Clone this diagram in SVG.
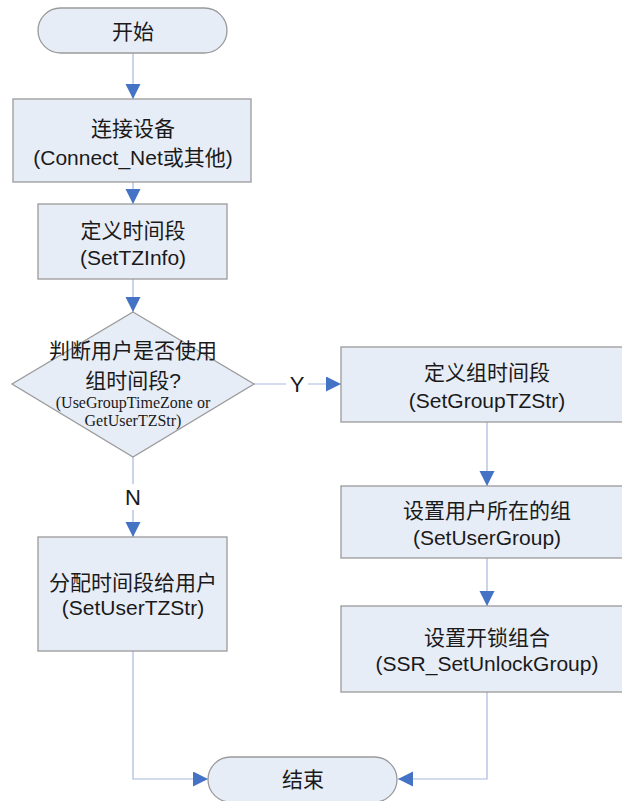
<svg xmlns="http://www.w3.org/2000/svg" width="622" height="801" viewBox="0 0 622 801">
<style>
.n{fill:#e7edf7;stroke:#9a9a9a;stroke-width:1.3}
.c{fill:none;stroke:#a7b9de;stroke-width:1.2}
.t{font-family:"Liberation Sans","Noto Sans CJK SC",sans-serif;font-size:21px;fill:#1a1a1a;text-anchor:middle;dominant-baseline:central}
.s{font-family:"Liberation Serif","Noto Sans CJK SC",serif;font-size:16px;fill:#1a1a1a;text-anchor:middle;dominant-baseline:central}
.lb{fill:#ffffff}
</style>
<defs>
<marker id="a" markerUnits="userSpaceOnUse" markerWidth="16" markerHeight="16" refX="15" refY="7.5" orient="auto">
<path d="M0,0 L15,7.5 L0,15 Z" fill="#4472c4"/>
</marker>
</defs>
<g id="connectors">
<path class="c" d="M133,53 V99" marker-end="url(#a)"/>
<path class="c" d="M133,182 V204" marker-end="url(#a)"/>
<path class="c" d="M133,279 V312" marker-end="url(#a)"/>
<path class="c" d="M254,384 H341" marker-end="url(#a)"/>
<path class="c" d="M133,457 V537" marker-end="url(#a)"/>
<path class="c" d="M487,422 V486" marker-end="url(#a)"/>
<path class="c" d="M487,558 V606" marker-end="url(#a)"/>
<path class="c" d="M487,692 V779 H398" marker-end="url(#a)"/>
<path class="c" d="M133,651 V779 H208" marker-end="url(#a)"/>
<rect class="lb" x="286" y="371" width="22" height="26"/>
<text class="t" x="297" y="384" style="font-size:22px">Y</text>
<rect class="lb" x="122" y="484" width="22" height="26"/>
<text class="t" x="133" y="497" style="font-size:22px">N</text>
</g>
<g id="start">
<rect class="n" x="38" y="8" width="189" height="45" rx="22.5"/>
<text class="t" x="133" y="31">开始</text>
</g>
<g id="connect">
<rect class="n" x="13" y="99" width="238" height="83"/>
<text class="t" x="133" y="128">连接设备</text>
<text class="t" x="133" y="157">(Connect_Net或其他)</text>
</g>
<g id="settz">
<rect class="n" x="38" y="204" width="189" height="75"/>
<text class="t" x="133" y="230">定义时间段</text>
<text class="t" x="133" y="257">(SetTZInfo)</text>
</g>
<g id="decision">
<polygon class="n" points="133,312 254,384 133,457 12,384"/>
<text class="t" x="133" y="350">判断用户是否使用</text>
<text class="t" x="133" y="380">组时间段?</text>
<text class="s" x="133" y="402">(UseGroupTimeZone or</text>
<text class="s" x="133" y="420">GetUserTZStr)</text>
</g>
<g id="setgroup">
<rect class="n" x="341" y="347" width="292" height="75"/>
<text class="t" x="487" y="372">定义组时间段</text>
<text class="t" x="487" y="400">(SetGroupTZStr)</text>
</g>
<g id="setusergroup">
<rect class="n" x="341" y="486" width="292" height="72"/>
<text class="t" x="487" y="510">设置用户所在的组</text>
<text class="t" x="487" y="537">(SetUserGroup)</text>
</g>
<g id="unlock">
<rect class="n" x="341" y="606" width="292" height="86"/>
<text class="t" x="487" y="637">设置开锁组合</text>
<text class="t" x="487" y="663">(SSR_SetUnlockGroup)</text>
</g>
<g id="assign">
<rect class="n" x="38" y="537" width="189" height="114"/>
<text class="t" x="133" y="582">分配时间段给用户</text>
<text class="t" x="133" y="607">(SetUserTZStr)</text>
</g>
<g id="end">
<rect class="n" x="208" y="757" width="189" height="45" rx="22.5"/>
<text class="t" x="303" y="779">结束</text>
</g>
</svg>
